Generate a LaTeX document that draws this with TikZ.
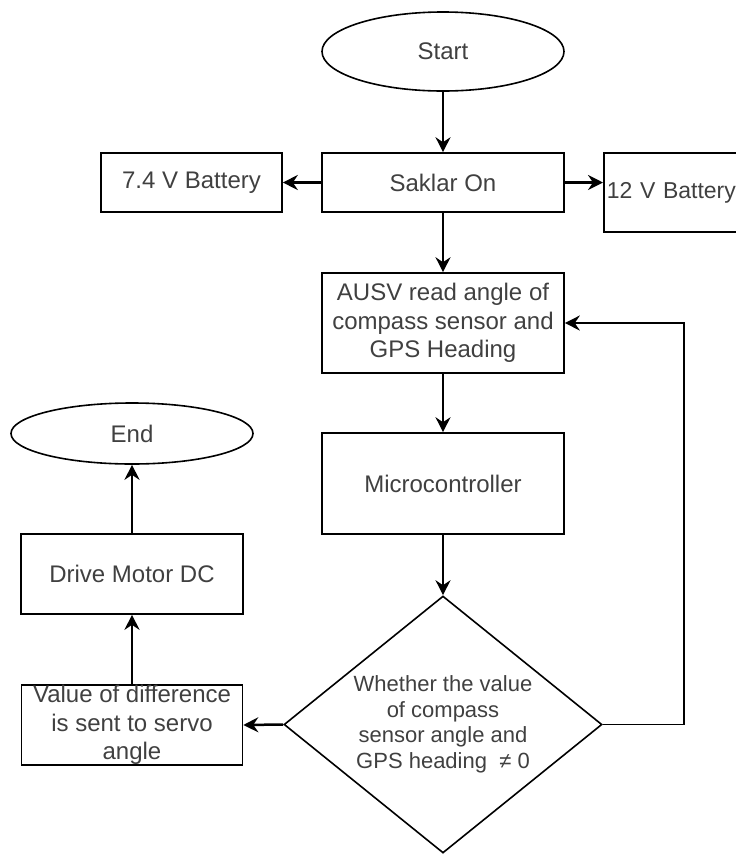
\documentclass[tikz,border=0pt]{standalone}
\usepackage{fontspec}
\setmainfont{Liberation Sans}
\usetikzlibrary{shapes.geometric,arrows.meta}
\begin{document}
\begin{tikzpicture}[x=1pt,y=-1pt,
  box/.style={draw,line width=1.6pt,rectangle,inner sep=0pt,align=center,font=\fontsize{24}{28.5}\selectfont,text=black!75},
  term/.style={draw,line width=1.6pt,ellipse,inner sep=0pt,font=\fontsize{24}{28}\selectfont,text=black!75},
  dec/.style={draw,line width=1.6pt,diamond,inner sep=0pt,align=center,font=\fontsize{22}{25.5}\selectfont,text=black!75},
  conn/.style={line width=1.5pt,-{Stealth[length=15pt,width=15pt,inset=5pt]}},
  connthick/.style={conn,line width=2.5pt},
]
\useasboundingbox (0,0) rectangle (736,855);
\clip (0,0) rectangle (736,855);

\node[term, minimum width=242, minimum height=79] (start) at (443,51.5) {Start};
\node[box, minimum width=242, minimum height=59] (saklar) at (443,182.5) {Saklar On};
\node[box, minimum width=181, minimum height=59] (bat7) at (191.5,182.5) {7.4 V Battery};
\node[box, anchor=west, minimum width=160, minimum height=79, text width=154, align=left, inner xsep=3pt, font=\fontsize{23}{28}\selectfont] (bat12) at (603,192.5) {12 V Battery};
\node[box, minimum width=242, minimum height=100] (ausv) at (443,323) {AUSV read angle of\\compass sensor and\\GPS Heading};
\node[box, minimum width=242, minimum height=101] (micro) at (443,483.5) {Microcontroller};
\node[dec, minimum width=318, minimum height=257, aspect=1.237] (dec) at (443,724.5) {Whether the value\\of compass\\sensor angle and\\GPS heading\ \ ≠ 0};
\node[box, minimum width=221, minimum height=80] (value) at (132,725) {Value of difference\\is sent to servo\\angle};
\node[box, minimum width=222, minimum height=80] (drive) at (132,574) {Drive Motor DC};
\node[term, minimum width=242, minimum height=61] (end) at (132,433.5) {End};

\coordinate (fb) at (684,323);

\draw[conn] (start.south) -- (start.south |- saklar.north);
\draw[connthick] (saklar.west) -- (bat7.east);
\draw[connthick] (saklar.east) -- (saklar.east -| bat12.west);
\draw[conn] (saklar.south) -- (ausv.north);
\draw[conn] (ausv.south) -- (micro.north);
\draw[conn] (micro.south) -- (dec.north);
\draw[connthick] (dec.west) -- (value.east);
\draw[conn, line width=1.8pt] (dec.east) -| (fb) -- (ausv.east);
\draw[connthick] (value.north) -- (value.north |- drive.south);
\draw[connthick] (drive.north) -- (drive.north |- end.south);
\end{tikzpicture}
\end{document}
